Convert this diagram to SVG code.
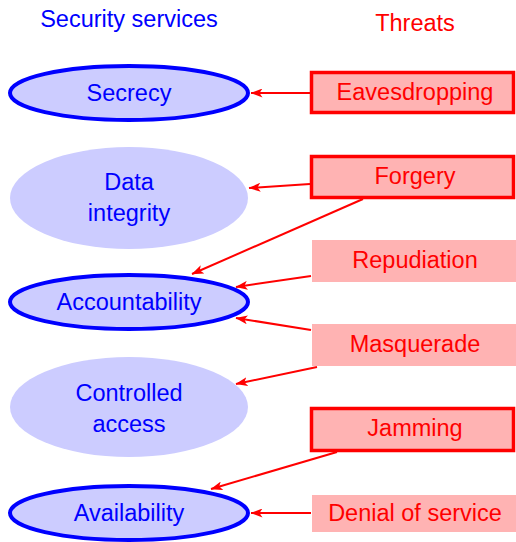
<svg xmlns="http://www.w3.org/2000/svg" width="516" height="542" viewBox="0 0 516 542">
  <defs>
    <marker id="arrow" viewBox="0 0 12 9" refX="11.5" refY="4.5" markerWidth="12" markerHeight="9" markerUnits="userSpaceOnUse" orient="auto">
      <path d="M0,0 L12,4.5 L0,9 L3,4.5 Z" fill="#ff0000"/>
    </marker>
  </defs>
  <style>
    text { font-family: "Liberation Sans", "DejaVu Sans", sans-serif; font-size: 23.5px; text-anchor: middle; }
    .svc { fill: #ccccff; }
    .svc-strong { fill: #ccccff; stroke: #0000ff; stroke-width: 4; }
    .svc-text { fill: #0000ff; }
    .thr { fill: #ffb3b3; }
    .thr-strong { fill: #ffb3b3; stroke: #ff0000; stroke-width: 3.5; }
    .thr-text { fill: #ff0000; }
    .conn { stroke: #ff0000; stroke-width: 2; fill: none; marker-end: url(#arrow); }
  </style>

  <!-- column headings -->
  <text class="svc-text" x="129" y="27">Security services</text>
  <text class="thr-text" x="415" y="31">Threats</text>

  <!-- security services -->
  <g id="secrecy">
    <ellipse class="svc-strong" cx="129" cy="93" rx="119" ry="27"/>
    <text class="svc-text" x="129" y="101">Secrecy</text>
  </g>
  <g id="data-integrity">
    <ellipse class="svc" cx="129" cy="198" rx="119" ry="51"/>
    <text class="svc-text" x="129" y="190">Data</text>
    <text class="svc-text" x="129" y="221">integrity</text>
  </g>
  <g id="accountability">
    <ellipse class="svc-strong" cx="129" cy="302" rx="119" ry="27"/>
    <text class="svc-text" x="129" y="310">Accountability</text>
  </g>
  <g id="controlled-access">
    <ellipse class="svc" cx="129" cy="407" rx="119" ry="50"/>
    <text class="svc-text" x="129" y="401">Controlled</text>
    <text class="svc-text" x="129" y="432">access</text>
  </g>
  <g id="availability">
    <ellipse class="svc-strong" cx="129" cy="513" rx="119" ry="27"/>
    <text class="svc-text" x="129" y="521">Availability</text>
  </g>

  <!-- threats -->
  <g id="eavesdropping">
    <rect class="thr-strong" x="311.5" y="72.5" width="202" height="40"/>
    <text class="thr-text" x="415" y="100">Eavesdropping</text>
  </g>
  <g id="forgery">
    <rect class="thr-strong" x="311.5" y="156.5" width="202" height="41"/>
    <text class="thr-text" x="415" y="184">Forgery</text>
  </g>
  <g id="repudiation">
    <rect class="thr" x="312" y="240" width="204" height="42"/>
    <text class="thr-text" x="415" y="268">Repudiation</text>
  </g>
  <g id="masquerade">
    <rect class="thr" x="312" y="324" width="204" height="42"/>
    <text class="thr-text" x="415" y="352">Masquerade</text>
  </g>
  <g id="jamming">
    <rect class="thr-strong" x="311.5" y="408.5" width="202" height="42"/>
    <text class="thr-text" x="415" y="436">Jamming</text>
  </g>
  <g id="denial-of-service">
    <rect class="thr" x="312" y="495" width="204" height="37"/>
    <text class="thr-text" x="415" y="521">Denial of service</text>
  </g>

  <!-- threat-to-service connectors -->
  <g id="connectors">
    <line class="conn" x1="310" y1="93" x2="251" y2="93"/>
    <line class="conn" x1="310" y1="184" x2="249" y2="188"/>
    <line class="conn" x1="363" y1="199" x2="192" y2="274"/>
    <line class="conn" x1="311" y1="276" x2="236" y2="287"/>
    <line class="conn" x1="311" y1="330" x2="236" y2="318"/>
    <line class="conn" x1="317" y1="367" x2="236" y2="384"/>
    <line class="conn" x1="337" y1="452" x2="211" y2="489"/>
    <line class="conn" x1="311" y1="513" x2="251" y2="513"/>
  </g>
</svg>
